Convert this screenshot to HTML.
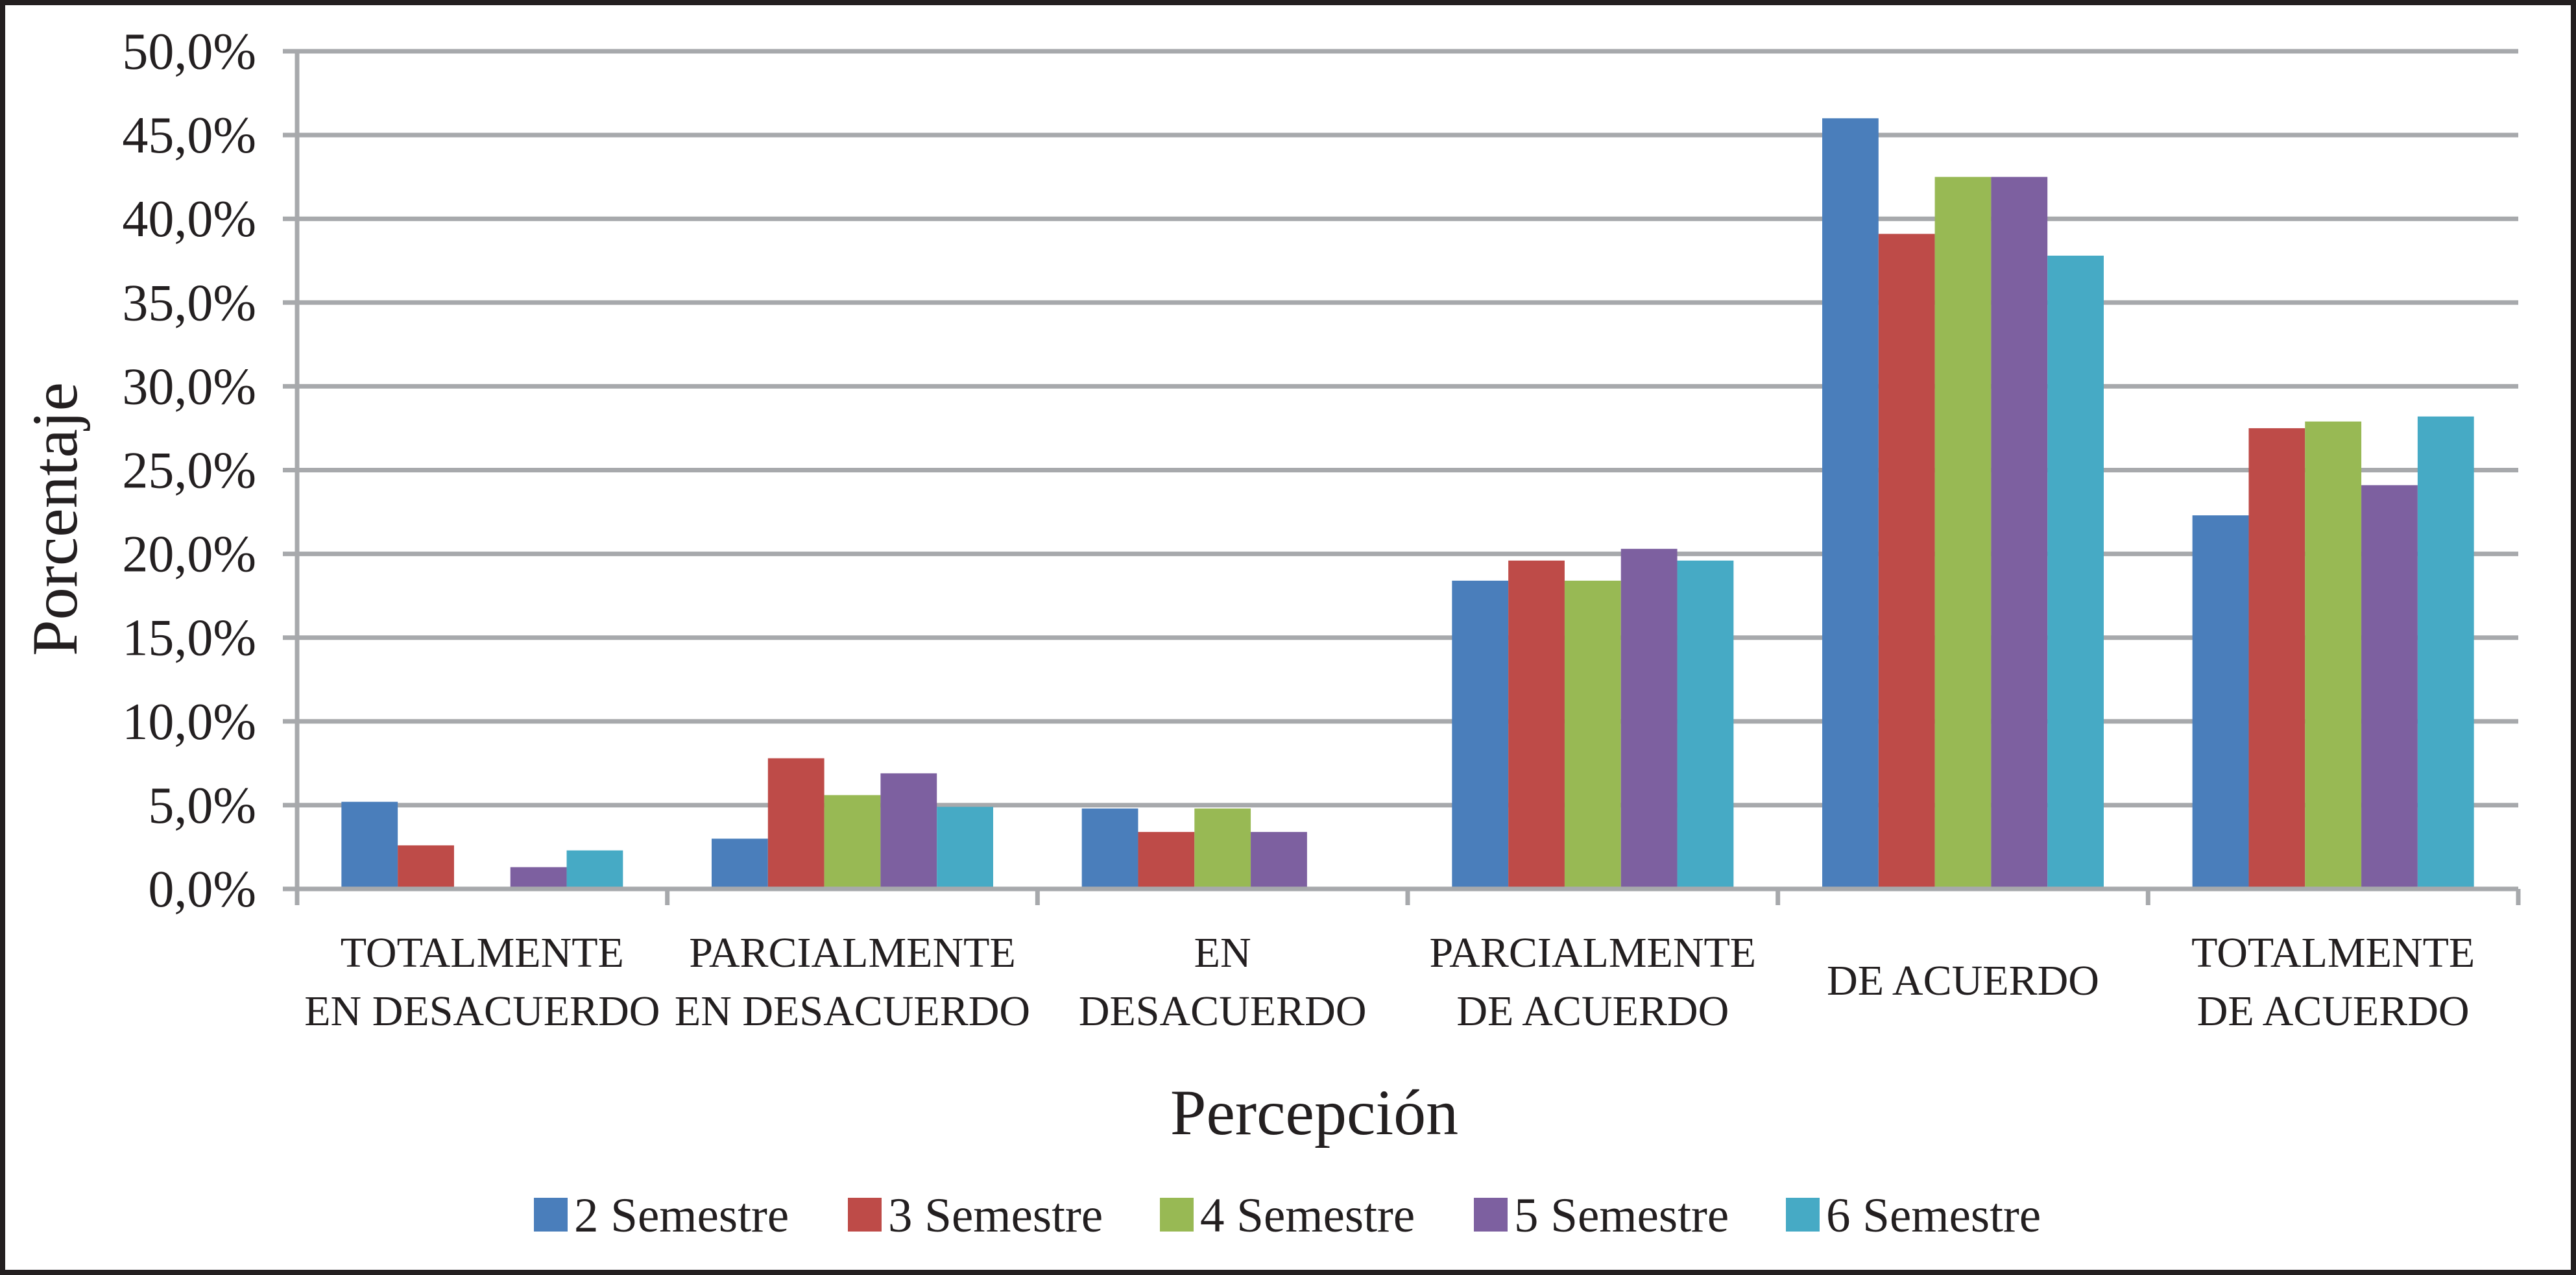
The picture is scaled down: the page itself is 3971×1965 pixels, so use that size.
<!DOCTYPE html>
<html><head><meta charset="utf-8"><style>
html,body{margin:0;padding:0;background:#fff}
svg{display:block}
text{font-family:"Liberation Serif",serif;fill:#231f20}
</style></head><body>
<svg id="chart" width="3971" height="1965" viewBox="0 0 3971 1965" xmlns="http://www.w3.org/2000/svg">
<rect x="4" y="4" width="3963" height="1957" fill="#fff" stroke="#231f20" stroke-width="8"/>
<g id="grid"></g><g id="bars"></g><g id="axes"></g><g id="labels"></g>
<text transform="translate(118,800) rotate(-90)" text-anchor="middle" font-size="100">Porcentaje</text>
<text x="2026" y="1748" text-anchor="middle" font-size="100">Percepción</text>
<g id="legend"></g>
</svg>
<script>
const categories = [["TOTALMENTE","EN DESACUERDO"],["PARCIALMENTE","EN DESACUERDO"],["EN","DESACUERDO"],["PARCIALMENTE","DE ACUERDO"],["DE ACUERDO"],["TOTALMENTE","DE ACUERDO"]];
const seriesNames = ["2 Semestre","3 Semestre","4 Semestre","5 Semestre","6 Semestre"];
const s2 = [5.2, 3.0, 4.8, 18.4, 46.0, 22.3];
const s3 = [2.6, 7.8, 3.4, 19.6, 39.1, 27.5];
const s4 = [0, 5.6, 4.8, 18.4, 42.5, 27.9];
const s5 = [1.3, 6.9, 3.4, 20.3, 42.5, 24.1];
const s6 = [2.3, 4.9, 0, 19.6, 37.8, 28.2];
const yTicks = [0,5,10,15,20,25,30,35,40,45,50];
const yTickLabels = ["0,0%","5,0%","10,0%","15,0%","20,0%","25,0%","30,0%","35,0%","40,0%","45,0%","50,0%"];
const series = [s2,s3,s4,s5,s6];
const colors = ["#4a7ebb","#be4b48","#98b954","#7d60a0","#46aac5"];
const NS="http://www.w3.org/2000/svg";
const X0=458,X1=3882,Y0=1370,Y1=79;
const y = v => Y0-(v/50)*(Y0-Y1);
const catW=(X1-X0)/categories.length;
const barW=86.8, groupPad=(catW-barW*5)/2;
const x = (ci,si) => X0+ci*catW+groupPad+si*barW;
function mk(tag,attrs,parent){const e=document.createElementNS(NS,tag);for(const k in attrs)e.setAttribute(k,attrs[k]);parent.appendChild(e);return e;}
const grid=document.getElementById('grid'),bars=document.getElementById('bars'),axes=document.getElementById('axes'),labels=document.getElementById('labels'),legend=document.getElementById('legend');
yTicks.forEach((t,i)=>{
  const l=mk('line',{x1:X0-22,x2:X1,y1:y(t),y2:y(t),stroke:'#a7a9ac','stroke-width':7},grid);
  
  
  const tx=mk('text',{x:395,y:y(t)+27,'text-anchor':'end','font-size':80},labels);
  tx.textContent=yTickLabels[i];
  
  
});
series.forEach((s,si)=>{s.forEach((v,ci)=>{
  const r=mk('rect',{x:x(ci,si),y:y(v),width:barW,height:Y0-y(v),fill:colors[si]},bars);
  
  
});});
const ax=mk('line',{x1:X0,x2:X0,y1:Y1,y2:Y0+25,stroke:'#a7a9ac','stroke-width':7},axes);


const xa=mk('line',{x1:X0,x2:X1,y1:Y0,y2:Y0,stroke:'#a7a9ac','stroke-width':7},axes);


for(let i=0;i<=categories.length;i++){
  const tk=mk('line',{x1:X0+i*catW,x2:X0+i*catW,y1:Y0,y2:Y0+25,stroke:'#a7a9ac','stroke-width':7},axes);
  
  
}
categories.forEach((c,ci)=>{
  const cx=X0+(ci+0.5)*catW;
  const lines = c.length===1 ? [1533] : [1490,1580];
  c.forEach((t,li)=>{
    const tx=mk('text',{x:cx,y:lines[li],'text-anchor':'middle','font-size':66},labels);
    tx.textContent=t;
    
    
  });
});
const legX=[823,1307,1788,2272,2753];
seriesNames.forEach((n,i)=>{
  const sq=mk('rect',{x:legX[i],y:1846,width:52,height:52,fill:colors[i]},legend);
  
  
  const tx=mk('text',{x:legX[i]+62,y:1898,'font-size':75},legend);
  tx.textContent=n;
  
  
});
</script>
</body></html>
